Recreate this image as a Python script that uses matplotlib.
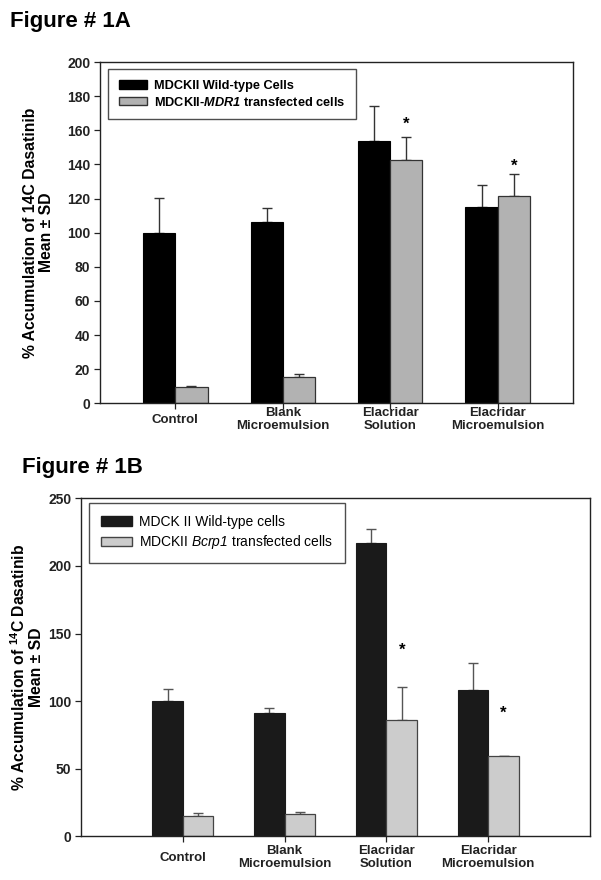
import matplotlib
matplotlib.use('Agg')
import matplotlib.pyplot as plt
import matplotlib.transforms as mtransforms
from matplotlib.patches import Patch
import numpy as np

plt.rcParams['font.family'] = ['Liberation Sans', 'DejaVu Sans']
plt.rcParams['mathtext.fontset'] = 'custom'
# italic gene names use mathtext; digits fall back to rm / bf
plt.rcParams['mathtext.rm'] = 'Liberation Sans:italic'
plt.rcParams['mathtext.it'] = 'Liberation Sans:italic'
plt.rcParams['mathtext.bf'] = 'Liberation Sans:italic:bold'
plt.rcParams['mathtext.bfit'] = 'Liberation Sans:italic:bold'
plt.rcParams['mathtext.sf'] = 'Liberation Sans:bold'  # used for the 14C superscript

# data
groups = ['Control', 'Blank\nMicroemulsion', 'Elacridar\nSolution', 'Elacridar\nMicroemulsion']

a_wild = [100.0, 106.4, 153.9, 115.2]
a_wild_sd = [20.5, 8.1, 20.4, 12.6]
a_mdr1 = [9.7, 15.4, 142.8, 121.5]
a_mdr1_sd = [0.5, 1.8, 13.1, 12.7]
a_star_groups = [2, 3]
a_star_y = [166.5, 142.2]

b_wild = [100.3, 91.0, 217.2, 108.4]
b_wild_sd = [8.7, 3.9, 10.3, 20.0]
b_bcrp1 = [14.8, 16.5, 85.8, 59.2]
b_bcrp1_sd = [2.2, 1.5, 24.6, 0.3]
b_star_groups = [2, 3]
b_star_y = [141.5, 94.7]


def bar_panel(ax, wild, wild_sd, trans, trans_sd, colors, edge, ecolor,
              labels, legend_weight, legend_size, star_groups, star_y, xlim, ylim, yticks,
              label_pad, label_shift, legend_anchor):
    x = np.arange(1, len(wild) + 1)
    w = 0.30
    ax.bar(x - w / 2, wild, w, color=colors[0], edgecolor=colors[0], linewidth=0.8, zorder=2)
    ax.bar(x + w / 2, trans, w, color=colors[1], edgecolor=edge, linewidth=0.9, zorder=2)
    ax.errorbar(x - w / 2, wild, yerr=[np.zeros(len(wild)), wild_sd], fmt='none',
                ecolor=ecolor, elinewidth=1.0, capsize=3.6, capthick=1.0, zorder=1)
    ax.errorbar(x + w / 2, trans, yerr=[np.zeros(len(trans)), trans_sd], fmt='none',
                ecolor=ecolor, elinewidth=1.0, capsize=3.6, capthick=1.0, zorder=1)

    for g, y in zip(star_groups, star_y):
        ax.annotate('*', (x[g] + w / 2, y), xytext=(0, -7), textcoords='offset points',
                    ha='center', va='baseline', fontsize=12, fontweight='bold')

    ax.set_xlim(*xlim)
    ax.set_ylim(*ylim)
    ax.set_yticks(yticks)
    ax.set_xticks(x)
    ax.set_xticklabels(groups, fontsize=9.5, fontweight='bold', linespacing=1.2)
    fig = ax.figure
    for t, dx in zip(ax.get_xticklabels(), label_shift):
        t.set_va('center')
        t.set_transform(t.get_transform() +
                        mtransforms.ScaledTranslation(dx / 100, 0, fig.dpi_scale_trans))
    for t in ax.get_yticklabels():
        t.set_fontweight('bold')
        t.set_fontsize(10)
    ax.tick_params(axis='x', direction='out', length=4, width=0.9, pad=label_pad, colors='#222222')
    ax.tick_params(axis='y', direction='out', length=4, width=0.9, pad=3, colors='#222222')
    for s in ax.spines.values():
        s.set_linewidth(1.0)
        s.set_color('#222222')

    handles = [Patch(facecolor=colors[0], edgecolor=colors[0]),
               Patch(facecolor=colors[1], edgecolor=edge)]
    leg = ax.legend(handles, labels, loc='upper left', bbox_to_anchor=legend_anchor,
                    borderaxespad=0, frameon=True, fancybox=False, handlelength=2.2,
                    handleheight=0.65, handletextpad=0.55, labelspacing=0.3,
                    borderpad=0.85, prop={'weight': legend_weight, 'size': legend_size})
    leg.get_frame().set_edgecolor('#222222')
    leg.get_frame().set_linewidth(1.0)


fig = plt.figure(figsize=(6.01, 8.80), dpi=100)
axA = fig.add_axes([0.1664, 0.5417, 0.787, 0.3878])
axB = fig.add_axes([0.1348, 0.0497, 0.847, 0.384])

bar_panel(axA, a_wild, a_wild_sd, a_mdr1, a_mdr1_sd, ['#000000', '#b2b2b2'], '#333333', '#333333',
          ['MDCKII Wild-type Cells', r'MDCKII-$\mathbfit{MDR1}$ transfected cells'], 'bold', 9.2,
          a_star_groups, a_star_y, (0.3, 4.7), (0, 200), np.arange(0, 201, 20),
          7.7, [-11, -3, 0, 4], (0.017, 0.98))
bar_panel(axB, b_wild, b_wild_sd, b_bcrp1, b_bcrp1_sd, ['#1a1a1a', '#cccccc'], '#444444', '#555555',
          ['MDCK II Wild-type cells', r'MDCKII $\mathit{Bcrp1}$ transfected cells'], 'normal', 10,
          b_star_groups, b_star_y, (0.0, 5.0), (0, 250), np.arange(0, 251, 50),
          11.3, [-10, -5, 4, 11], (0.016, 0.986))

fig.text(38.5 / 601, 1 - 232.7 / 880, '% Accumulation of 14C Dasatinib\nMean \u00b1 SD',
         rotation=90, ha='center', va='center', fontsize=11.3, fontweight='bold',
         multialignment='center', linespacing=1.1)
fig.text(26.5 / 601, 1 - 667.3 / 880,
         '% Accumulation of $^{\\mathsf{14}}$C Dasatinib\nMean \u00b1 SD',
         rotation=90, ha='center', va='center', fontsize=11.3, fontweight='bold',
         multialignment='center', linespacing=1.1)

fig.text(10 / 601, 1 - 27 / 880, 'Figure # 1A', fontsize=16, fontweight='bold', va='baseline')
fig.text(22 / 601, 1 - 473 / 880, 'Figure # 1B', fontsize=16, fontweight='bold', va='baseline')

fig.savefig('out.png', dpi=100)
